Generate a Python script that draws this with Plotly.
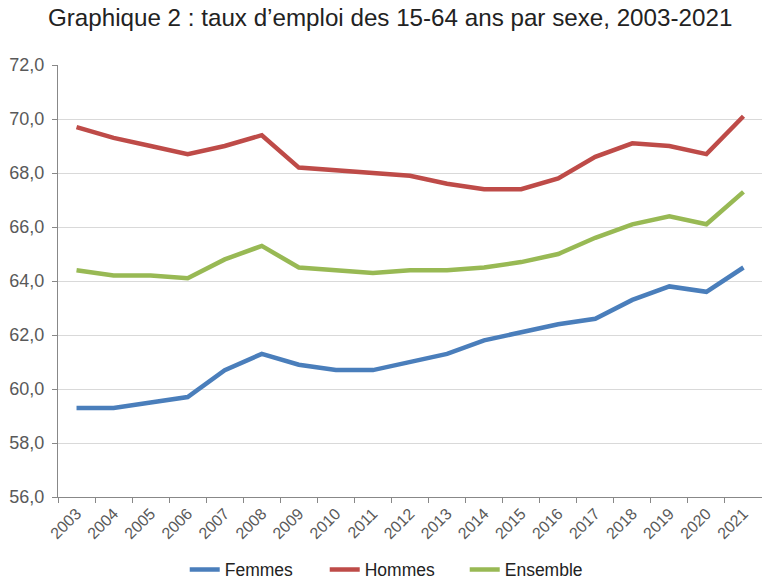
import plotly.graph_objects as go

years = [str(y) for y in range(2003, 2022)]
femmes = [59.3, 59.3, 59.5, 59.7, 60.7, 61.3, 60.9, 60.7, 60.7, 61.0,
          61.3, 61.8, 62.1, 62.4, 62.6, 63.3, 63.8, 63.6, 64.5]
hommes = [69.7, 69.3, 69.0, 68.7, 69.0, 69.4, 68.2, 68.1, 68.0, 67.9,
          67.6, 67.4, 67.4, 67.8, 68.6, 69.1, 69.0, 68.7, 70.1]
ensemble = [64.4, 64.2, 64.2, 64.1, 64.8, 65.3, 64.5, 64.4, 64.3, 64.4,
            64.4, 64.5, 64.7, 65.0, 65.6, 66.1, 66.4, 66.1, 67.3]
y_ticks = [56, 58, 60, 62, 64, 66, 68, 70, 72]

series = [
    ("Femmes", femmes, "#4A7EBB"),
    ("Hommes", hommes, "#BE4B48"),
    ("Ensemble", ensemble, "#98B954"),
]

fig = go.Figure()
for name, vals, color in series:
    fig.add_trace(go.Scatter(
        x=years, y=vals, mode="lines", name=name,
        line=dict(color=color, width=4.5),
    ))

fig.update_layout(
    title=dict(
        text="Graphique 2 : taux d’emploi des 15-64 ans par sexe, 2003-2021",
        x=0.512, xanchor="center", y=0.97, yanchor="middle",
        font=dict(family="Liberation Sans, Arial", size=24.2, color="#222222"),
    ),
    width=762, height=581,
    margin=dict(l=58, r=0, t=65, b=84, autoexpand=False),
    paper_bgcolor="white", plot_bgcolor="white",
    font=dict(family="Liberation Sans, Arial", size=16, color="#595959"),
    showlegend=True,
    legend=dict(
        orientation="h", x=0.18, xanchor="left", y=-0.168, yanchor="middle",
        font=dict(size=17.5, color="#222222"),
        entrywidth=95, entrywidthmode="pixels",
        traceorder="normal",
    ),
    xaxis=dict(
        type="category", range=[-0.5, 18.5], tickangle=-45, tickson="boundaries",
        showline=True, linecolor="#888888", linewidth=1,
        ticks="outside", ticklen=5, tickcolor="#888888",
        showgrid=False, automargin=False,
        tickfont=dict(size=16, color="#595959"),
    ),
    yaxis=dict(
        range=[56, 72], tickvals=y_ticks,
        ticktext=[f"{v:.1f}".replace(".", ",") for v in y_ticks],
        showline=True, linecolor="#888888", linewidth=1,
        ticks="outside", ticklen=5, tickcolor="#888888",
        ticklabelstandoff=4,
        showgrid=True, gridcolor="#D9D9D9", gridwidth=1,
        zeroline=False, automargin=False,
        tickfont=dict(size=18, color="#595959"),
    ),
)

# the page's default body margin would shift the chart by 8px
fig.write_html(
    "out.html",
    config={"displayModeBar": False},
    post_script="document.body.style.margin='0';",
)
